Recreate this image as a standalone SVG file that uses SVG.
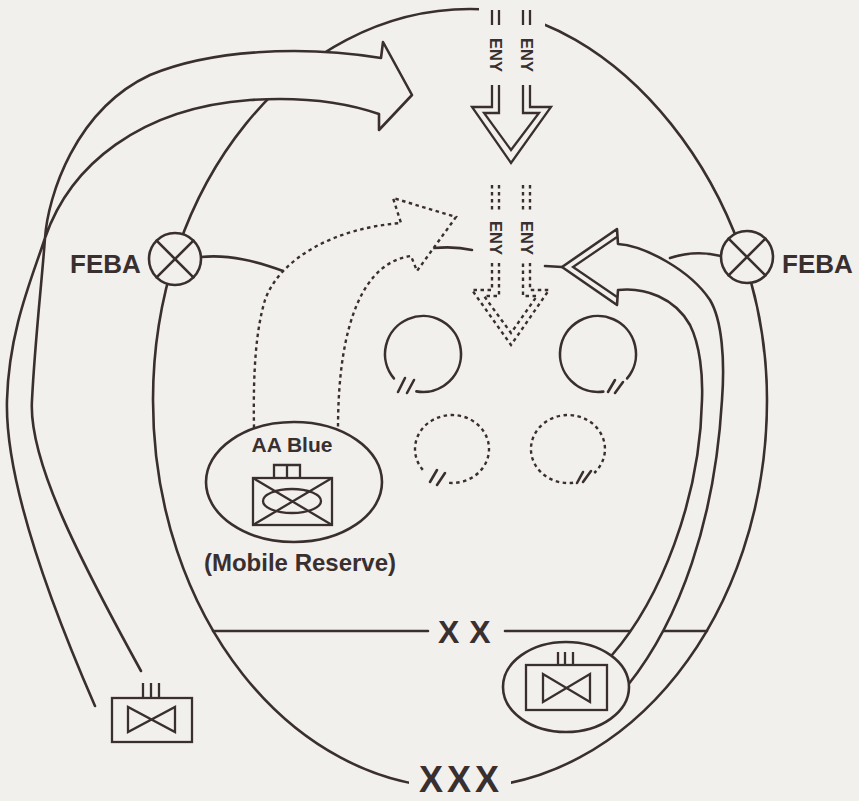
<svg xmlns="http://www.w3.org/2000/svg" width="859" height="801" viewBox="0 0 859 801">
<style>
.ln{fill:none;stroke:#3a2f2f;stroke-width:2.6;stroke-linecap:round;stroke-linejoin:round}
.fl{fill:#f2f0ed;stroke:#3a2f2f;stroke-width:2.6;stroke-linejoin:round}
.th{fill:none;stroke:#3a2f2f;stroke-width:2.3;stroke-linejoin:miter}
.ds{fill:none;stroke:#3a2f2f;stroke-width:2.4;stroke-dasharray:3.5 3.5}
.dsf{fill:#f2f0ed;stroke:#3a2f2f;stroke-width:2.4;stroke-dasharray:3.5 3.5}
.t{font-family:"Liberation Sans",Arial,sans-serif;font-weight:bold;fill:#3a2f2f}
.eny{font-family:"Liberation Sans",Arial,sans-serif;font-weight:bold;fill:#3a2f2f;font-size:16.5px;text-anchor:middle;dominant-baseline:central}
</style>
<defs>
<mask id="gap"><rect width="859" height="801" fill="#fff"/><rect x="479" y="0" width="66" height="40" fill="#000"/><rect x="409" y="750" width="102" height="51" fill="#000"/></mask>
</defs>
<rect width="859" height="801" fill="#f2f0ed"/>

<g id="corps-boundary">
<path class="ln" mask="url(#gap)" d="M470,9 C610,9 767,185 767,400 C767,614 630,788 460,788 C290,788 153,614 153,400 C153,185 295,9 470,9 Z"/>
<text class="t" x="419" y="792" font-size="36" letter-spacing="4">XXX</text>
</g>

<g id="division-boundary">
<path class="ln" d="M213,631 H428 M505,631 H707"/>
<text class="t" x="438" y="643" font-size="32" letter-spacing="10">XX</text>
</g>

<g id="connectors">
<path class="ln" d="M201,257 C230,254 258,262 283,271"/>
<path class="ln" d="M434,248 Q455,246 472,250"/>
<path class="ln" d="M545,266 L562,267"/>
<path class="ln" d="M721,256 C705,252 688,252 670,258"/>

<path class="fl" style="stroke:none" d="M45,238 C70,165 140,108 250,100 C310,96 350,104 379,114 L379,130 L412,95 L383,42 L381,58 C300,45 210,50 150,75 C75,110 48,196 45,238 Z"/>
<path class="ln" d="M95,706 C40,580 5,470 7,400 C9,330 32,278 45,238 C70,165 140,108 250,100 C310,96 350,104 379,114 L379,130 L412,95 L383,42 L381,58 C300,45 210,50 150,75 C75,110 48,196 45,238 C42,280 35,340 32,400 C28,460 80,560 141,671"/>

<path class="dsf" d="M254,428 C253,370 256,330 265,300 C280,258 335,228 401,223 L393,198 L456,217 L417,271 L411,256 C365,262 338,320 338,429"/>

<path class="fl" style="stroke:none" d="M628,685 C680,620 715,520 722,400 C725,360 722,320 710,300 C690,270 645,246 618,244 L617,229 L562,267 L617,305 L618,290 C645,287 675,298 690,325 C700,345 703,375 702,400 C700,500 660,600 612,655 Z"/>
<path class="ln" d="M628,685 C680,620 715,520 722,400 C725,360 722,320 710,300 C690,270 645,246 618,244 L617,229 L562,267 L617,305 L618,290 C645,287 675,298 690,325 C700,345 703,375 702,400 C700,500 660,600 612,655"/>
<path class="th" d="M617,237 L573,267 L617,297"/>

<path class="th" d="M492,10 V25 M499,10 V25 M523,10 V25 M530,10 V25"/>
<path class="th" d="M492,85 V107 H472 L511,163 L551,107 H530 V85"/>
<path class="th" d="M499,85 V113 H484 L511,150 L539,113 H523 V85"/>
<text class="eny" transform="translate(495.5,55) rotate(90)">ENY</text>
<text class="eny" transform="translate(526.5,55) rotate(90)">ENY</text>

<path class="ds" d="M492,185 V213 M499,185 V213 M523,185 V213 M530,185 V213"/>
<path class="ds" d="M492,263 V290 H472 L511,345 L549,290 H530 V263"/>
<path class="ds" d="M499,263 V296 H484 L511,333 L537,296 H523 V263"/>
<text class="eny" transform="translate(495.5,238) rotate(90)">ENY</text>
<text class="eny" transform="translate(526.5,238) rotate(90)">ENY</text>
</g>

<g id="feba-left">
<circle class="fl" cx="175" cy="259" r="26"/>
<path class="ln" d="M156.6,240.6 L193.4,277.4 M193.4,240.6 L156.6,277.4"/>
<text class="t" x="70" y="273" font-size="26">FEBA</text>
</g>
<g id="feba-right">
<circle class="fl" cx="747" cy="257" r="26"/>
<path class="ln" d="M728.6,238.6 L765.4,275.4 M765.4,238.6 L728.6,275.4"/>
<text class="t" x="782" y="273" font-size="26">FEBA</text>
</g>

<g id="enemy-unit-1">
<path class="ln" d="M393.9,378.4 A38,38 0 1,1 416.4,391.4"/>
<path class="ln" d="M398,392 L405,378 M407,393 L414,380"/>
</g>
<g id="enemy-unit-2">
<path class="ln" d="M603.3,391.6 A38,38 0 1,1 627.1,378.4"/>
<path class="ln" d="M608,392 L615,380 M615,393 L623,382"/>
</g>
<g id="enemy-unit-3">
<path class="ds" d="M422.8,469.9 A37,34 0 1,1 446.9,482.7"/>
<path class="ln" d="M430,482 L437,470 M437,485 L445,473"/>
</g>
<g id="enemy-unit-4">
<path class="ds" d="M573.1,482.7 A37,34 0 1,1 594.2,473"/>
<path class="ln" d="M577,483 L583,472 M583,482 L591,471"/>
</g>

<g id="aa-blue">
<ellipse class="fl" cx="294" cy="482" rx="88" ry="60"/>
<text class="t" x="292" y="452" font-size="21" text-anchor="middle">AA Blue</text>
<rect class="th" x="253" y="478" width="79" height="47"/>
<path class="th" d="M253,478 L332,525 M332,478 L253,525 M274,478 V465 H300 V478 M287,465 V478"/>
<ellipse class="th" cx="292" cy="501" rx="29" ry="12"/>
<text class="t" x="300" y="571" font-size="24" text-anchor="middle">(Mobile Reserve)</text>
</g>

<g id="unit-bottom-right">
<ellipse class="fl" cx="566" cy="687" rx="63" ry="45"/>
<rect class="th" x="526" y="665" width="81" height="45"/>
<path class="th" d="M543,674 V702 L590,674 V702 Z M558,652 V665 M565,652 V665 M573,652 V665"/>
</g>

<g id="unit-bottom-left">
<rect class="th" x="112" y="698" width="80" height="44"/>
<path class="th" d="M128,707 V732 L175,707 V732 Z M143,683 V698 M151,683 V698 M159,683 V698"/>
</g>
</svg>
